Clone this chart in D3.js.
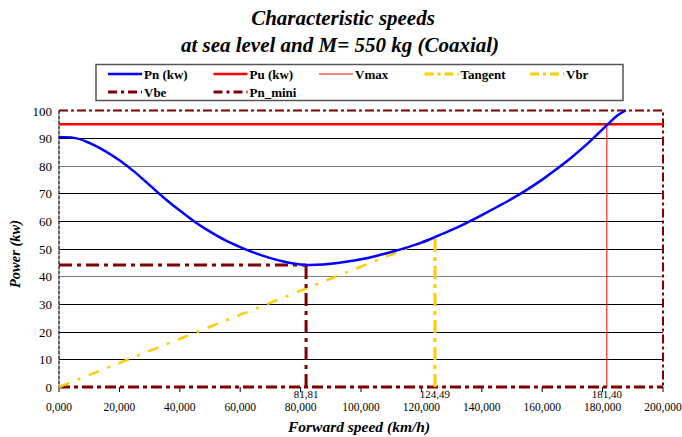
<!DOCTYPE html>
<html>
<head>
<meta charset="utf-8">
<script src="https://cdn.jsdelivr.net/npm/d3@7"></script>
<style>
  body { margin: 0; background: #fff; }
</style>
</head>
<body>
<script>
// Pn curve (km/h, kw)
const vitesses = [0,5,10,15,20,25,30,35,40,45,50,55,60,65,70,75,80,81.81,85,90,95,100,105,110,115,120,124.49,130,135,140,145,150,155,160,165,170,175,180,181.4,185,187.6];
const puissancesPn = [90.4,90.1,88.3,85.5,82,77.8,73,68.2,63.8,59.7,56.2,53.1,50.6,48.4,46.6,45.2,44.3,44.1,44.2,44.6,45.3,46.2,47.4,48.8,50.4,52.2,54.2,56.8,59.4,62.2,65.1,68.1,71.4,75,79,83.3,88,93.2,94.7,98.3,100];
const puMax = 95;
const vbe = 81.81, pnMini = 44.1;
const vbr = 124.49, pVbr = 54.2;
const vmax = 181.40;
const xTicks = [0,20,40,60,80,100,120,140,160,180,200];
const yTicks = [0,10,20,30,40,50,60,70,80,90,100];
const legende = [
  {nom: "Pn (kw)", couleur: "#0000ff", tirets: null, ep: 2.5},
  {nom: "Pu (kw)", couleur: "#ff0000", tirets: null, ep: 2.5},
  {nom: "Vmax", couleur: "#ff8080", tirets: null, ep: 2},
  {nom: "Tangent", couleur: "#ffcc00", tirets: "9,4,3,4", ep: 3},
  {nom: "Vbr", couleur: "#ffcc00", tirets: "9,4,3,4", ep: 3},
  {nom: "Vbe", couleur: "#800000", tirets: "9,4,3,4", ep: 3},
  {nom: "Pn_mini", couleur: "#800000", tirets: "9,4,3,4", ep: 3}
];

const police = "'Liberation Serif', 'Times New Roman', 'DejaVu Serif', serif";
const canevas = d3.select('body').append('svg')
  .attr('width', 682).attr('height', 437)
  .attr('font-family', police).style('font-family', police);

const x = d3.scaleLinear().domain([0, 200]).range([59, 663]);
const y = d3.scaleLinear().domain([0, 100]).range([387, 110.5]);

// titre
canevas.append('text').attr('x', 343).attr('y', 25).attr('text-anchor', 'middle')
  .style('font-size', '21px').style('font-weight', 'bold').style('font-style', 'italic')
  .text('Characteristic speeds');
canevas.append('text').attr('x', 340).attr('y', 52).attr('text-anchor', 'middle')
  .style('font-size', '21px').style('font-weight', 'bold').style('font-style', 'italic')
  .text('at sea level and M= 550 kg (Coaxial)');

// grille
canevas.selectAll('.grille').data(yTicks.filter(d => d > 0 && d < 100)).enter()
  .append('line')
  .attr('x1', x(0)).attr('x2', x(200))
  .attr('y1', d => Math.round(y(d)) + 0.5).attr('y2', d => Math.round(y(d)) + 0.5)
  .attr('stroke', d => (d === 40 || d === 80) ? '#808080' : '#000')
  .attr('stroke-width', 1);

// axe y
canevas.append('line').attr('x1', x(0)).attr('x2', x(0)).attr('y1', y(100)).attr('y2', y(0))
  .attr('stroke', '#000').attr('stroke-width', 1.2).attr('stroke-dasharray', '4,1');
canevas.selectAll('.ytick').data(yTicks).enter().append('text')
  .attr('x', 52).attr('y', d => y(d) + 5).attr('text-anchor', 'end')
  .style('font-size', '13px').text(d => d);

// axe x
canevas.selectAll('.xtick').data(xTicks).enter().append('line')
  .attr('x1', d => x(d)).attr('x2', d => x(d)).attr('y1', y(0)).attr('y2', y(0) + 5)
  .attr('stroke', '#000');
canevas.selectAll('.xlab').data(xTicks).enter().append('text')
  .attr('x', d => x(d)).attr('y', 411).attr('text-anchor', 'middle')
  .style('font-size', '11.5px').text(d => d.toFixed(3).replace('.', ','));

// bordure pointillée
canevas.append('path')
  .attr('d', `M${x(0)},${y(100)}H${x(200)}V${y(0)}`)
  .attr('fill', 'none').attr('stroke', '#800000').attr('stroke-width', 2)
  .attr('stroke-dasharray', '9,3,3,3');
canevas.append('line').attr('x1', x(0)).attr('x2', x(200)).attr('y1', y(0)).attr('y2', y(0))
  .attr('stroke', '#800000').attr('stroke-width', 3).attr('stroke-dasharray', '11,4,4,4');

// Pu
canevas.append('line').attr('x1', x(0)).attr('x2', x(200)).attr('y1', y(puMax)).attr('y2', y(puMax))
  .attr('stroke', '#ff0000').attr('stroke-width', 2.5);
// Vmax
canevas.append('line').attr('x1', x(vmax)).attr('x2', x(vmax)).attr('y1', y(0)).attr('y2', y(puMax))
  .attr('stroke', '#ff0000').attr('stroke-width', 1);

// tangente
canevas.append('line').attr('x1', x(0)).attr('y1', y(0)).attr('x2', x(vbr)).attr('y2', y(pVbr))
  .attr('stroke', '#ffcc00').attr('stroke-width', 2.5).attr('stroke-dasharray', '11,9,3,9');
// Vbr
canevas.append('line').attr('x1', x(vbr)).attr('x2', x(vbr)).attr('y1', y(0)).attr('y2', y(pVbr))
  .attr('stroke', '#ffcc00').attr('stroke-width', 3).attr('stroke-dasharray', '13,5,4,5');

// Pn_mini et Vbe
canevas.append('line').attr('x1', x(0)).attr('x2', x(vbe)).attr('y1', y(pnMini)).attr('y2', y(pnMini))
  .attr('stroke', '#800000').attr('stroke-width', 3).attr('stroke-dasharray', '13,5,4,5');
canevas.append('line').attr('x1', x(vbe)).attr('x2', x(vbe)).attr('y1', y(0)).attr('y2', y(pnMini))
  .attr('stroke', '#800000').attr('stroke-width', 3).attr('stroke-dasharray', '13,5,4,5');

// courbe Pn
const ligne = d3.line().x((d, i) => x(vitesses[i])).y(d => y(d)).curve(d3.curveMonotoneX);
canevas.append('path').datum(puissancesPn).attr('d', ligne)
  .attr('fill', 'none').attr('stroke', '#0000ff').attr('stroke-width', 2.5);

// étiquettes des vitesses
[vbe, vbr, vmax].forEach(v => {
  canevas.append('text').attr('x', x(v)).attr('y', 398).attr('text-anchor', 'middle')
    .style('font-size', '11px').text(v.toFixed(2).replace('.', ','));
});

// titres des axes
canevas.append('text').attr('x', 359).attr('y', 432).attr('text-anchor', 'middle')
  .style('font-size', '15.5px').style('font-weight', 'bold').style('font-style', 'italic')
  .text('Forward speed (km/h)');
canevas.append('text').attr('transform', 'translate(20,254) rotate(-90)').attr('text-anchor', 'middle')
  .style('font-size', '14.5px').style('font-weight', 'bold').style('font-style', 'italic')
  .text('Power (kw)');

// légende
canevas.append('rect').attr('x', 96).attr('y', 64.5).attr('width', 527).attr('height', 36)
  .attr('fill', '#fff').attr('stroke', '#555').attr('stroke-width', 1.5);
const item = canevas.selectAll('.leg').data(legende).enter().append('g')
  .attr('transform', (d, i) => i < 5
    ? `translate(${108 + i * 105.5},74)`
    : `translate(${108 + (i - 5) * 105.5},92)`);
item.append('line').attr('x1', 0).attr('x2', 34).attr('y1', 0).attr('y2', 0)
  .attr('stroke', d => d.couleur).attr('stroke-width', d => d.ep)
  .attr('stroke-dasharray', d => d.tirets);
item.append('text').attr('x', 36).attr('y', 4.5)
  .style('font-size', '13px').style('font-weight', 'bold').text(d => d.nom);
</script>
</body>
</html>
